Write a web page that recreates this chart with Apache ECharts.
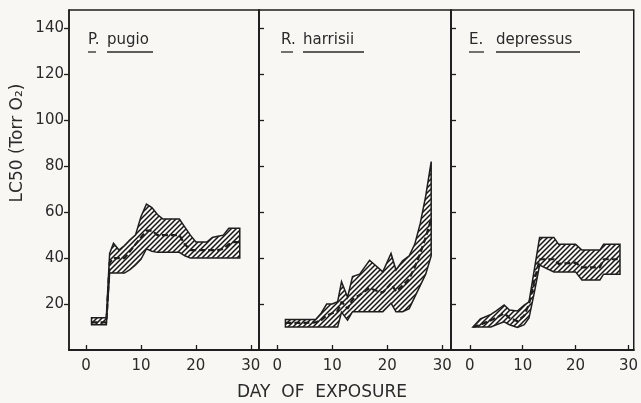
<!DOCTYPE html>
<html>
<head>
<meta charset="utf-8">
<script src="https://cdn.jsdelivr.net/npm/echarts@6/dist/echarts.min.js"></script>
<style>
  html, body { margin: 0; padding: 0; background: #f8f7f3; }
  #chart { width: 641px; height: 403px; }
</style>
</head>
<body>
<div id="chart"></div>
<script>
// tick labels
var X_TICKS = [0, 10, 20, 30];
var Y_TICKS = [20, 40, 60, 80, 100, 120, 140];

// P. pugio
var P_DAYS   = [1, 2, 3, 3.7, 4.3, 5, 6, 7, 8, 9, 10, 11, 12, 13, 14, 15, 16, 17, 18, 19, 20, 21, 22, 23, 24, 25, 26, 27, 28];
var P_UPPER  = [14, 14, 14, 14, 42, 46.5, 43.5, 45.5, 48, 50, 58, 63.5, 62, 59, 57, 57, 57, 57, 53.5, 50, 47, 47, 47, 49, 49.5, 50, 53, 53, 53];
var P_LOWER  = [11, 11, 11, 11, 33.5, 33.5, 33.5, 33.5, 35, 37, 39.5, 44, 43, 42.5, 42.5, 42.5, 42.5, 42.5, 41, 40, 40, 40, 40, 40, 40, 40, 40, 40, 40];
var P_MEDIAN = [12, 12, 12, 12, 38, 40, 40, 40, 43, 46, 49, 52, 52, 50, 50, 50, 50, 50, 46, 43.5, 43.5, 43.5, 43.5, 43.5, 43.5, 44, 46, 47, 47];

// R. harrisii
var R_DAYS   = [1.5, 3, 5, 7, 8, 9, 10, 11, 11.7, 12.8, 13.7, 15, 16.8, 17.8, 19.2, 20.7, 21.6, 22.8, 24, 25, 26, 27, 28];
var R_UPPER  = [13.3, 13.3, 13.3, 13.3, 16, 20, 20, 21, 29.7, 23, 32, 33, 39, 37, 34, 42, 34.8, 38.8, 41, 46, 55, 67, 82];
var R_LOWER  = [10, 10, 10, 10, 10, 10, 10, 10, 16.5, 13, 16.7, 16.7, 16.7, 16.7, 16.7, 20.4, 16.7, 16.7, 18, 23, 28, 33, 41];
var R_MEDIAN = [11.8, 11.8, 11.8, 12, 13, 15, 16, 17, 21, 18, 22, 24, 27, 26, 25, 29, 25.5, 28, 31, 36, 42, 49, 57];

// E. depressus
var E_DAYS   = [0.6, 2, 4, 5, 6.5, 7.5, 9, 10.3, 11.2, 12.2, 13.2, 15.9, 16.8, 20, 21.2, 24.6, 25.3, 28.4];
var E_UPPER  = [10, 13.5, 15.5, 17, 19.6, 17.4, 17, 19.6, 21, 35, 49, 49, 46, 46, 43.5, 43.5, 46, 46];
var E_LOWER  = [10, 10, 10, 11, 12.3, 11, 9.8, 11, 14, 25, 37, 34, 34, 34, 30.5, 30.5, 33, 33];
var E_MEDIAN = [10, 11, 13, 14, 16, 14, 12.5, 15, 20, 30, 39.5, 39.5, 37.5, 38, 36, 36, 39.5, 39.5];

var INK = '#1e1e1e';
var FONT = 'DejaVu Sans';

function makeHatch() {
    var s = 5;
    var c = document.createElement('canvas');
    c.width = s; c.height = s;
    var g = c.getContext('2d');
    g.strokeStyle = '#151515';
    g.lineWidth = 1.5;
    g.beginPath();
    g.moveTo(0, s); g.lineTo(s, 0);
    g.moveTo(-1, 1); g.lineTo(1, -1);
    g.moveTo(s - 1, s + 1); g.lineTo(s + 1, s - 1);
    g.stroke();
    return c;
}
var hatch = { image: makeHatch(), repeat: 'repeat' };

function bandSeries(i, days, upper, lower, median) {
    var rows = days.map(function (d, k) { return [d, lower[k], upper[k]]; });
    var band = {
        type: 'custom', xAxisIndex: i, yAxisIndex: i, silent: true, animation: false,
        data: rows,
        encode: { x: 0, y: [1, 2] },
        renderItem: function (params, api) {
            if (params.dataIndex !== 0) return null;
            var pts = [];
            rows.forEach(function (r) { pts.push(api.coord([r[0], r[2]])); });
            rows.slice().reverse().forEach(function (r) { pts.push(api.coord([r[0], r[1]])); });
            return {
                type: 'polygon',
                shape: { points: pts },
                style: { fill: hatch, stroke: INK, lineWidth: 1.5, lineJoin: 'miter' }
            };
        },
        z: 2
    };
    var mid = {
        type: 'line', xAxisIndex: i, yAxisIndex: i, symbol: 'none', silent: true, animation: false,
        data: days.map(function (d, k) { return [d, median[k]]; }),
        lineStyle: { color: INK, width: 2.2, type: [6, 3] },
        z: 4
    };
    return [band, mid];
}

var panels = [
    { left: 69, width: 190, min: -3.1, max: 31.5 },
    { left: 259, width: 192, min: -3.3, max: 31.6 },
    { left: 451, width: 185, min: -3.55, max: 31.0 }
];

var grids = [], xAxes = [], yAxes = [];
panels.forEach(function (p, i) {
    grids.push({ left: p.left, width: p.width, top: 10, height: 340, show: true,
        borderColor: INK, borderWidth: 1.5, backgroundColor: 'transparent' });
    xAxes.push({
        type: 'value', gridIndex: i, min: p.min, max: p.max,
        splitLine: { show: false },
        axisLine: { lineStyle: { color: INK, width: 2 } },
        axisTick: { inside: true, length: 5, customValues: X_TICKS, lineStyle: { color: INK, width: 1.3 } },
        axisLabel: { customValues: X_TICKS, color: '#2a2a2a', fontSize: 15, fontFamily: FONT, margin: 9 }
    });
    yAxes.push({
        type: 'value', gridIndex: i, min: 0, max: 148,
        splitLine: { show: false },
        axisLine: { show: true, onZero: false, lineStyle: { color: INK, width: 1.5 } },
        axisTick: { inside: i > 0, length: 5, customValues: Y_TICKS, lineStyle: { color: INK, width: 1.3 } },
        axisLabel: { show: i === 0, customValues: Y_TICKS, color: '#2a2a2a', fontSize: 15, fontFamily: FONT, margin: 5 }
    });
});

var series = []
    .concat(bandSeries(0, P_DAYS, P_UPPER, P_LOWER, P_MEDIAN))
    .concat(bandSeries(1, R_DAYS, R_UPPER, R_LOWER, R_MEDIAN))
    .concat(bandSeries(2, E_DAYS, E_UPPER, E_LOWER, E_MEDIAN));

function label(x, y, text) {
    return { type: 'text', left: x, top: y, silent: true,
        style: { text: text, fill: '#2a2a2a', font: '15px "' + FONT + '"' } };
}
function rule(x1, x2, y) {
    return { type: 'line', silent: true, shape: { x1: x1, y1: y, x2: x2, y2: y },
        style: { stroke: '#2a2a2a', lineWidth: 1.3 } };
}

var option = {
    backgroundColor: '#f8f7f3',
    animation: false,
    grid: grids,
    xAxis: xAxes,
    yAxis: yAxes,
    series: series,
    graphic: [
        label(88, 33, 'P.'), rule(88, 96, 52), label(107, 33, 'pugio'), rule(107, 153, 52),
        label(281, 33, 'R.'), rule(281, 293, 52), label(303, 33, 'harrisii'), rule(303, 364, 52),
        label(469, 33, 'E.'), rule(469, 484, 52), label(496, 33, 'depressus'), rule(496, 580, 52),
        { type: 'text', x: 18, y: 143, rotation: Math.PI / 2, silent: true,
          style: { text: 'LC50 (Torr O₂)', fill: '#2a2a2a', font: '17px "' + FONT + '"', align: 'center', verticalAlign: 'middle' } },
        { type: 'text', x: 322, y: 393, silent: true,
          style: { text: 'DAY  OF  EXPOSURE', fill: '#2a2a2a', font: '17px "' + FONT + '"', align: 'center', verticalAlign: 'middle' } }
    ]
};

var chart = echarts.init(document.getElementById('chart'));
chart.setOption(option);
</script>
</body>
</html>
